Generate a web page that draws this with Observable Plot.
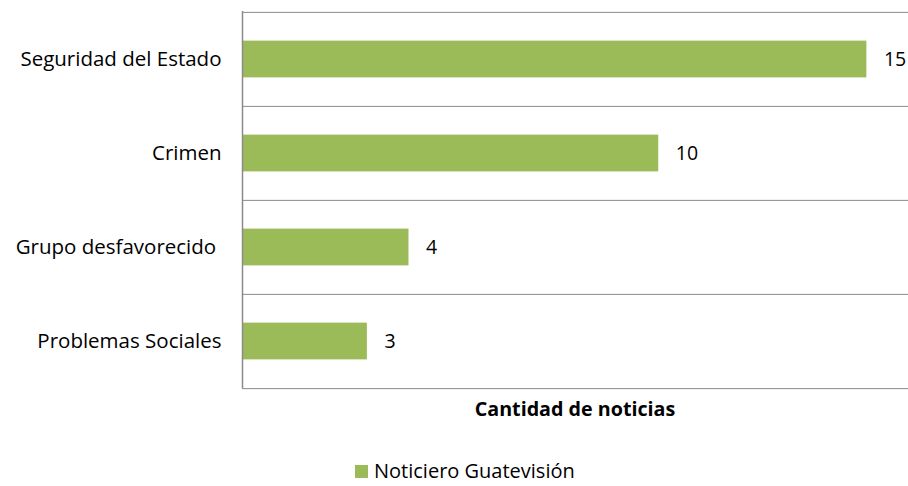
<!DOCTYPE html>
<html>
<head>
<meta charset="utf-8">
<script src="https://cdn.jsdelivr.net/npm/d3@7"></script>
<script src="https://cdn.jsdelivr.net/npm/@observablehq/plot@0.6"></script>
<style>
  html, body { margin: 0; padding: 0; background: #fff; }
  body { width: 908px; height: 486px; overflow: hidden; font-family: "Open Sans", sans-serif; color: #000; position: relative; }
  #axis-title { position: absolute; left: 242px; width: 666px; top: 395px; text-align: center; font-weight: bold; font-size: 19.7px; }
  #legend { position: absolute; left: 355px; top: 461px; height: 20px; line-height: 20px; display: flex; align-items: center; font-size: 20px; white-space: nowrap; }
  #legend .sw { width: 13px; height: 13px; background: #9BBB59; margin-right: 6px; }
</style>
</head>
<body>
<div id="chart"></div>
<div id="axis-title"></div>
<div id="legend"></div>
<script>
const categories = ["Seguridad del Estado", "Crimen", "Grupo desfavorecido ", "Problemas Sociales"];
const values = [15, 10, 4, 3];
const seriesName = "Noticiero Guatevisión";
const axisTitle = "Cantidad de noticias";
const xDomain = [0, 16];

const data = categories.map((c, i) => ({cat: c, value: values[i]}));

const W = 908, H = 445, mTop = 11, mBottom = 57, mLeft = 242, mRight = 0;
const bw = (H - mTop - mBottom) / categories.length;
const barH = 37;
const inset = (bw - barH) / 2;
const gridColor = "#8a8a8a";

const chart = Plot.plot({
  width: W,
  height: H,
  marginTop: mTop,
  marginBottom: mBottom,
  marginLeft: mLeft,
  marginRight: mRight,
  style: {fontFamily: "Open Sans, sans-serif", fontSize: "20.5px", color: "#000", background: "#fff", overflow: "visible"},
  x: {domain: xDomain, axis: null},
  y: {domain: categories, padding: 0, tickSize: 0, tickPadding: 21, label: null},
  marks: [
    Plot.ruleY(categories, {y: d => d, dy: -bw / 2, stroke: gridColor, strokeWidth: 1}),
    Plot.ruleY(categories.slice(-1), {y: d => d, dy: bw / 2, stroke: gridColor, strokeWidth: 1}),
    Plot.barX(data, {x: "value", y: "cat", fill: "#9BBB59", insetTop: inset, insetBottom: inset}),
    Plot.ruleX([0], {stroke: gridColor, strokeWidth: 1.5}),
    Plot.text(data, {x: "value", y: "cat", text: d => String(d.value), dx: 17, textAnchor: "start", fill: "#000", fontSize: 19.5})
  ]
});
document.getElementById("chart").appendChild(chart);
document.getElementById("axis-title").textContent = axisTitle;
const lg = document.getElementById("legend");
lg.innerHTML = '<span class="sw"></span><span></span>';
lg.lastChild.textContent = seriesName;
</script>
</body>
</html>
